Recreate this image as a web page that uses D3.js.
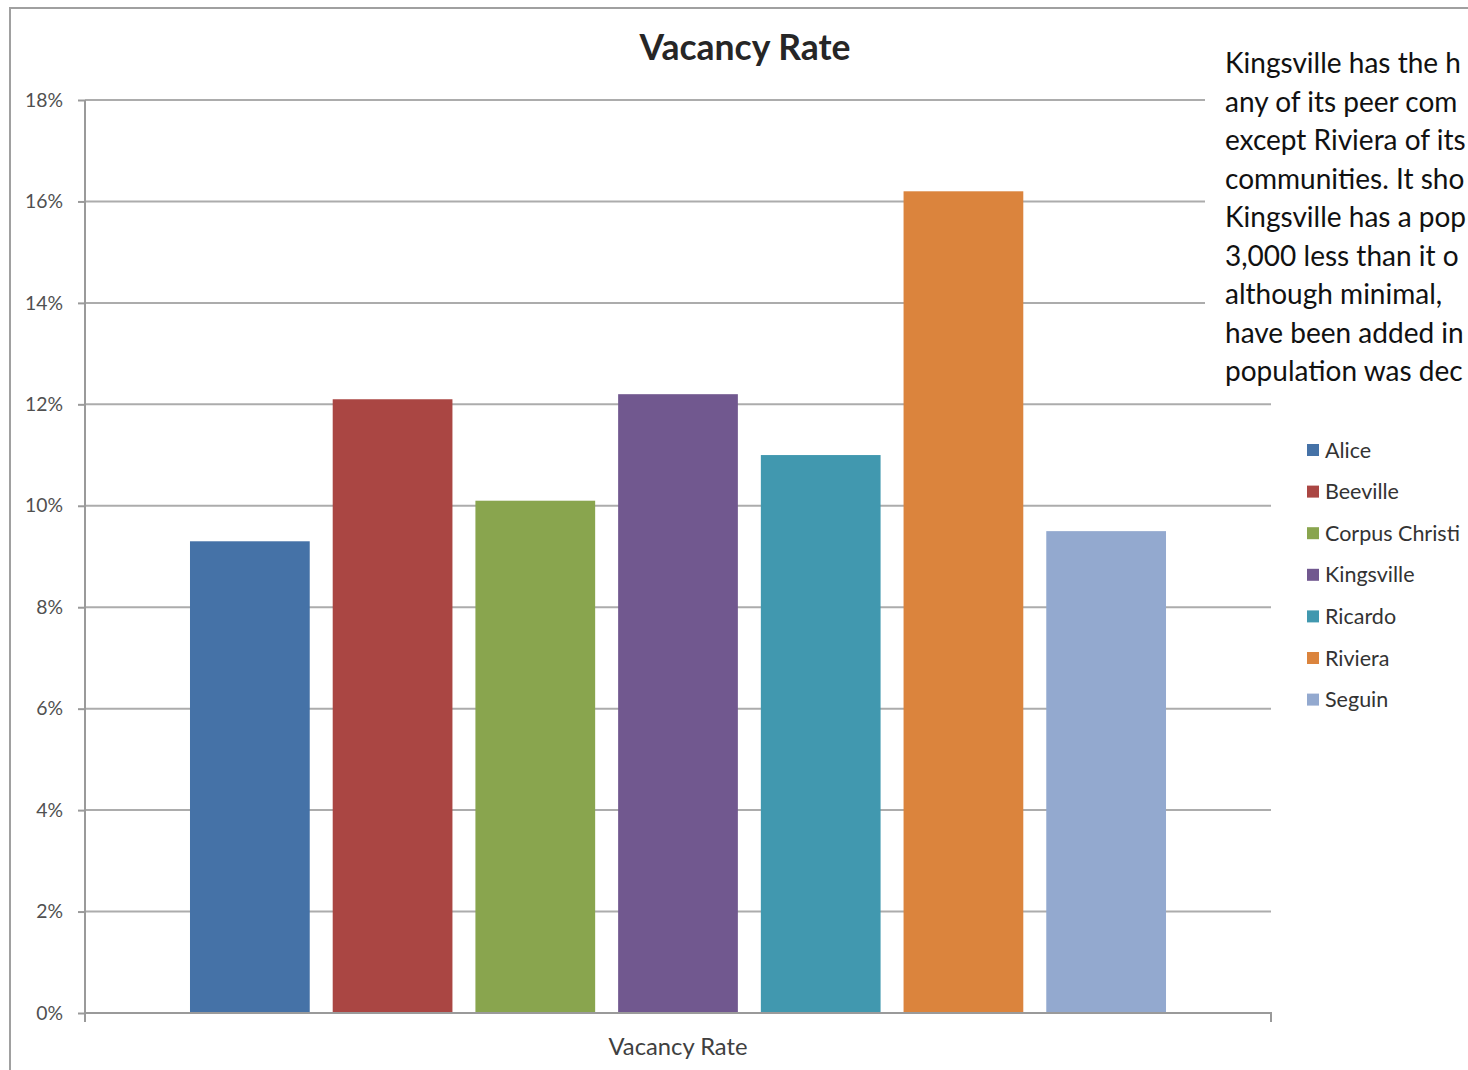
<!DOCTYPE html>
<html><head><meta charset="utf-8">
<script src="https://cdn.jsdelivr.net/npm/d3@7"></script>
<style>
html,body{margin:0;padding:0;background:#fff;overflow:hidden;}
svg{display:block;font-family:"Lato","Open Sans",sans-serif;}
</style></head>
<body><svg id="c" width="1468" height="1070"></svg>
<script>
const categories = ["Vacancy Rate"];
const seriesNames = ["Alice","Beeville","Corpus Christi","Kingsville","Ricardo","Riviera","Seguin"];
const seriesValues = [0.093,0.121,0.101,0.122,0.110,0.162,0.095];
const seriesColors = ["#4572A7","#AA4643","#89A54E","#71588F","#4198AF","#DB843D","#93A9CF"];
const yTicks = [0,0.02,0.04,0.06,0.08,0.10,0.12,0.14,0.16,0.18];
const titleText = "Vacancy Rate";
const noteLines = ["Kingsville has the h","any of its peer com","except Riviera of its","communities. It sho","Kingsville has a pop","3,000 less than it o","although minimal,","have been added in","population was dec"];

const FONT = '"Lato","Open Sans",sans-serif';
const svg = d3.select("#c");
const L=85,R=1271,T=100,B=1013;

function fitSize(node, base, target){
  node.setAttribute("font-size", base);
  const w = node.getComputedTextLength();
  return base*target/w;
}

// outer frame
svg.append("path").attr("d","M10,1070 V8 H1468").attr("fill","none").attr("stroke","#a0a0a0").attr("stroke-width",2);

const y = d3.scaleLinear().domain([0,0.18]).range([B,T]);
const x0 = d3.scaleBand().domain(categories).range([L,R]).paddingInner(0).paddingOuter(0.0936);
const x1 = d3.scaleBand().domain(seriesNames).range([0,x0.bandwidth()]).paddingInner(0.161).paddingOuter(0.0805);

// gridlines
svg.append("g").selectAll("line").data(yTicks.filter(d=>d>0)).join("line")
  .attr("x1",L).attr("x2",R).attr("y1",d=>y(d)).attr("y2",d=>y(d))
  .attr("stroke","#acacac").attr("stroke-width",2);

// y axis
const yAxis = svg.append("g").attr("transform",`translate(${L},0)`)
  .call(d3.axisLeft(y).tickValues(yTicks).tickFormat(d3.format(".0%")).tickSize(7).tickPadding(15));
yAxis.attr("font-family",FONT);
yAxis.select(".domain").attr("stroke","#9a9a9a").attr("stroke-width",2).attr("d",`M0,${T}V${B+9}`);
yAxis.selectAll(".tick line").attr("stroke","#9a9a9a").attr("stroke-width",2);
const yt = yAxis.selectAll(".tick text").attr("fill","#505050");
const ySize = fitSize(yt.nodes()[yt.size()-1], 18, 38);
yt.attr("font-size", ySize);

// bars
const g = svg.append("g");
categories.forEach(c=>{
  g.selectAll("rect").data(seriesNames).join("rect")
    .attr("x",s=>x0(c)+x1(s)).attr("width",x1.bandwidth())
    .attr("y",(s,i)=>y(seriesValues[i])).attr("height",(s,i)=>B-y(seriesValues[i]))
    .attr("fill",(s,i)=>seriesColors[i]);
});

// x axis
const xAxis = svg.append("g").attr("transform",`translate(0,${B})`)
  .call(d3.axisBottom(x0).tickSize(0).tickPadding(25));
xAxis.attr("font-family",FONT);
xAxis.select(".domain").attr("stroke","#9a9a9a").attr("stroke-width",2).attr("d",`M${L},0H${R}V9`);
const xt = xAxis.selectAll(".tick text").attr("fill","#404040");
xt.attr("font-size", fitSize(xt.node(), 20, 139));

// title
const tt = svg.append("text").attr("x",745).attr("y",60).attr("text-anchor","middle")
  .attr("font-weight","bold").attr("fill","#262626").text(titleText);
tt.attr("font-size", fitSize(tt.node(), 30, 211));

// note box
svg.append("rect").attr("x",1205).attr("y",38).attr("width",263).attr("height",358).attr("fill","#fff");
const nt = svg.append("g").selectAll("text").data(noteLines).join("text")
  .attr("x",1225).attr("y",(d,i)=>73+i*38.5).attr("fill","#111")
  .text(d=>d);
nt.attr("font-size", fitSize(nt.node(), 26, 236));

// legend
const lg = svg.append("g").selectAll("g").data(seriesNames).join("g")
  .attr("transform",(d,i)=>`translate(1307,${450+i*41.6})`);
lg.append("rect").attr("x",0).attr("y",-6).attr("width",12).attr("height",12).attr("fill",(d,i)=>seriesColors[i]);
const lt = lg.append("text").attr("x",18).attr("y",0).attr("dy","0.35em").attr("fill","#333").text(d=>d);
lt.attr("font-size", fitSize(lt.nodes()[2], 20, 135));
</script></body></html>
